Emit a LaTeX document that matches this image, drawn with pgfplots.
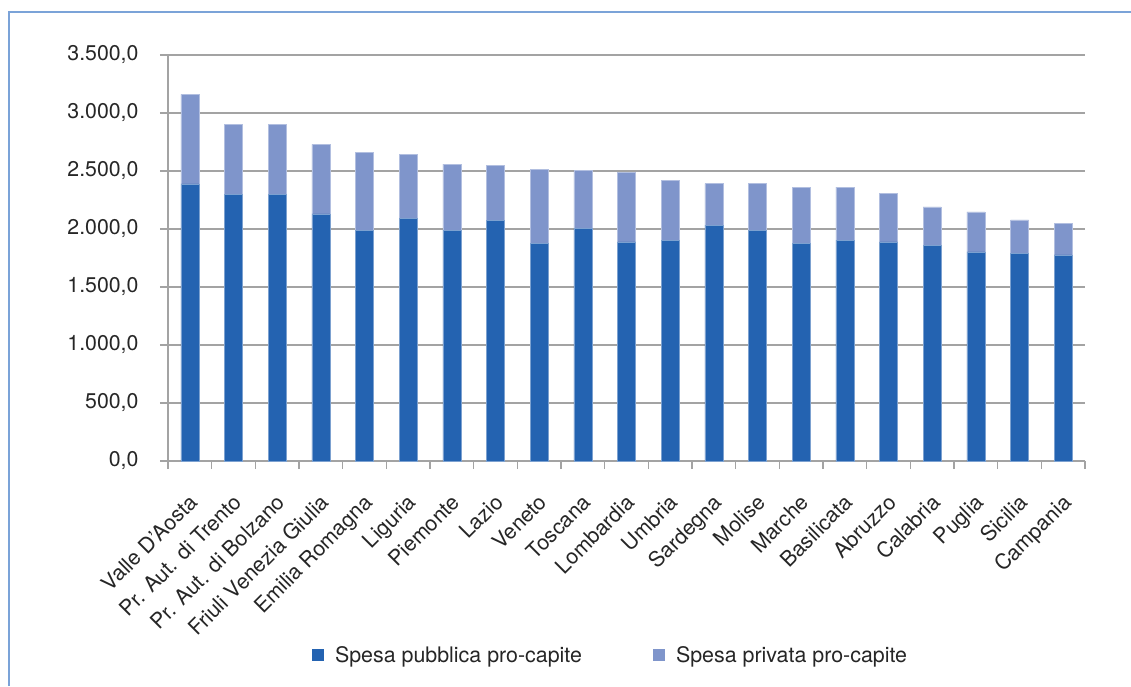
\documentclass[border=0pt]{standalone}
\usepackage{pgfplots}
\pgfplotsset{compat=1.18}
\usepackage{pgfplotstable}
\usepackage{fontspec}
\setmainfont{TeX Gyre Heros}
\definecolor{pubblue}{RGB}{36,99,177}
\definecolor{privblue}{RGB}{127,149,203}
\definecolor{gridgray}{RGB}{163,163,163}
\definecolor{framecol}{RGB}{123,163,216}
\definecolor{txt}{RGB}{38,38,38}
\pgfplotstableread{
idx pub priv
0 2390 770
1 2300 600
2 2300 600
3 2130 600
4 1990 670
5 2090 555
6 1990 570
7 2075 472
8 1877 640
9 2003 500
10 1888 603
11 1905 512
12 2034 357
13 1991 400
14 1877 485
15 1905 457
16 1888 417
17 1862 328
18 1802 345
19 1791 287
20 1776 273
}\datatable
\begin{document}
\begin{tikzpicture}
\useasboundingbox (0,0) rectangle (1131pt,686pt);
\draw[framecol, line width=1.2pt] (9pt,0pt) -- (9pt,674pt) -- (1131pt,674pt);
\begin{axis}[
  at={(168pt,225pt)}, anchor=south west,
  scale only axis, width=917pt, height=406pt,
  ybar stacked, bar width=18pt,
  xmin=-0.5, xmax=20.5, ymin=0, ymax=3500,
  ytick={0,500,...,3500},
  xtick={0,...,20},
  xticklabels={Valle D'Aosta, Pr. Aut. di Trento, Pr. Aut. di Bolzano, Friuli Venezia Giulia, Emilia Romagna, Liguria, Piemonte, Lazio, Veneto, Toscana, Lombardia, Umbria, Sardegna, Molise, Marche, Basilicata, Abruzzo, Calabria, Puglia, Sicilia, Campania},
  minor xtick={-0.5,0.5,...,20.5},
  axis x line*=bottom, axis y line*=left,
  axis line style={draw=gridgray, line width=1.2pt, -},
  tick align=outside,
  major tick length=8pt, minor tick length=8pt,
  major x tick style={draw=none},
  tick style={draw=gridgray, line width=1.2pt},
  ymajorgrids,
  grid style={draw=gridgray, line width=1.2pt},
  scaled y ticks=false,
  /pgf/number format/fixed, /pgf/number format/fixed zerofill, /pgf/number format/precision=1,
  /pgf/number format/use comma, /pgf/number format/1000 sep={.},
  /pgf/number format/assume math mode=true,
  tick label style={font=\fontsize{21.3}{25}\selectfont, text=txt},
  yticklabel style={xshift=-18pt},
  xticklabel style={xshift=-2pt, yshift=-19pt, rotate=45, anchor=north east},
  legend style={draw=none, at={(0.4826,-0.478)}, anchor=center, legend columns=2,
    font=\fontsize{21.4}{25}\selectfont, text=txt,
    /tikz/every odd column/.append style={column sep=9pt},
    /tikz/every even column/.append style={column sep=69pt}},
  legend image code/.code={\fill[#1,draw=none] (0pt,-6pt) rectangle (12pt,6pt);},
]
\addplot[fill=pubblue, draw=pubblue!60!white, line width=0.4pt] table[x=idx,y=pub]{\datatable};
\addplot[fill=privblue, draw=privblue!60!white, line width=0.4pt] table[x=idx,y=priv]{\datatable};
\legend{Spesa pubblica pro-capite, Spesa privata pro-capite}
\end{axis}
\end{tikzpicture}
\end{document}
